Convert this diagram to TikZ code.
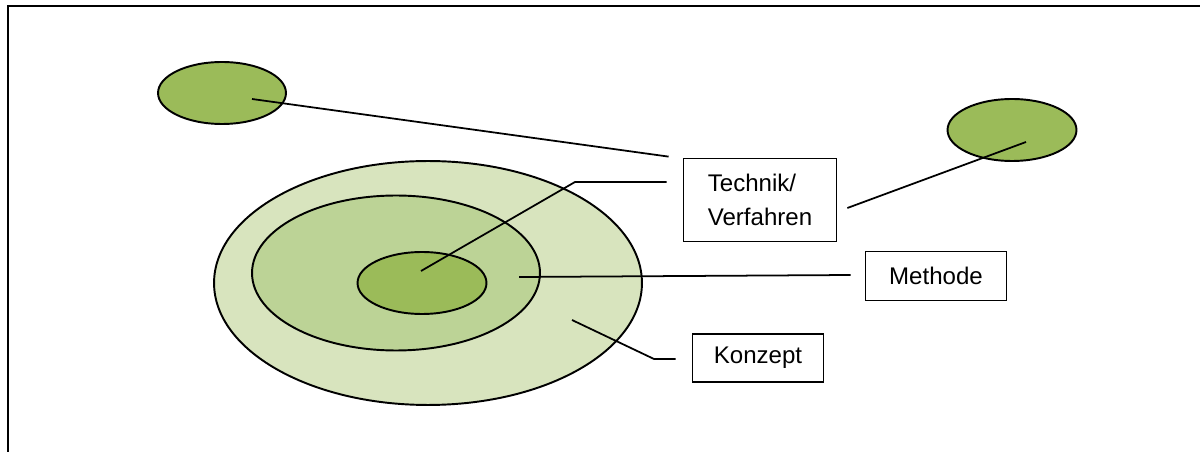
\documentclass[tikz,border=0pt]{standalone}
\usepackage{fontspec}
\setmainfont{Liberation Sans}
\usepackage{xcolor}
\usepackage{tikz}
\usetikzlibrary{shapes}
\definecolor{ringdark}{HTML}{9BBB59}
\definecolor{ringmid}{HTML}{BCD396}
\definecolor{ringlight}{HTML}{D8E4BE}
\tikzset{
	ring/.style={ellipse,draw,line width=1.1pt,inner sep=0pt},
	text box/.style={rectangle,draw,line width=1pt,inner sep=0pt,
		font=\fontsize{13.7}{19.3}\selectfont},
	lead/.style={line width=1pt}
}

\begin{document}
\begin{tikzpicture}[x=0.02cm,y=-0.02cm]
	\useasboundingbox (0,0) rectangle (1200,452);
	\draw [line width=1.5pt] (8,452) -- (8,6) -- (1200,6);
	% the three nested rings
	\node [ring,fill=ringlight,minimum width=8.56cm,minimum height=4.88cm] (1) at (428,283) {};
	\node [ring,fill=ringmid,minimum width=5.76cm,minimum height=3.1cm] (2) at (396,273) {};
	\node [ring,fill=ringdark,minimum width=2.58cm,minimum height=1.24cm] (3) at (422,283) {};
	% loose ones
	\node [ring,fill=ringdark,minimum width=2.56cm,minimum height=1.24cm] (4) at (222,93) {};
	\node [ring,fill=ringdark,minimum width=2.58cm,minimum height=1.24cm] (5) at (1012,130) {};
	% labels
	\node [text box,align=left,minimum width=3.06cm,minimum height=1.66cm] (6) at (760,200) {Technik/\\Verfahren};
	\node [text box,minimum width=2.82cm,minimum height=0.98cm] (7) at (936,276) {Methode};
	\node [text box,minimum width=2.62cm,minimum height=0.96cm] (8) at (758,358) {Konzept};
	% leaders
	\draw [lead] ([shift={(30,6)}]4.center) -- ([shift={(-14,-1)}]6.north west);
	\draw [lead] ([shift={(-1,-12)}]3.center) -- ++(154,-89) -- ([shift={(-16,-18)}]6.west);
	\draw [lead] ([shift={(14,12)}]5.center) -- ([shift={(10,8)}]6.east);
	\draw [lead] ([shift={(123,4)}]2.center) -- ([shift={(-14,-1)}]7.west);
	\draw [lead] ([shift={(144,37)}]1.center) -- ++(82,39) -- ([shift={(-16,1)}]8.west);
\end{tikzpicture}
\end{document}
